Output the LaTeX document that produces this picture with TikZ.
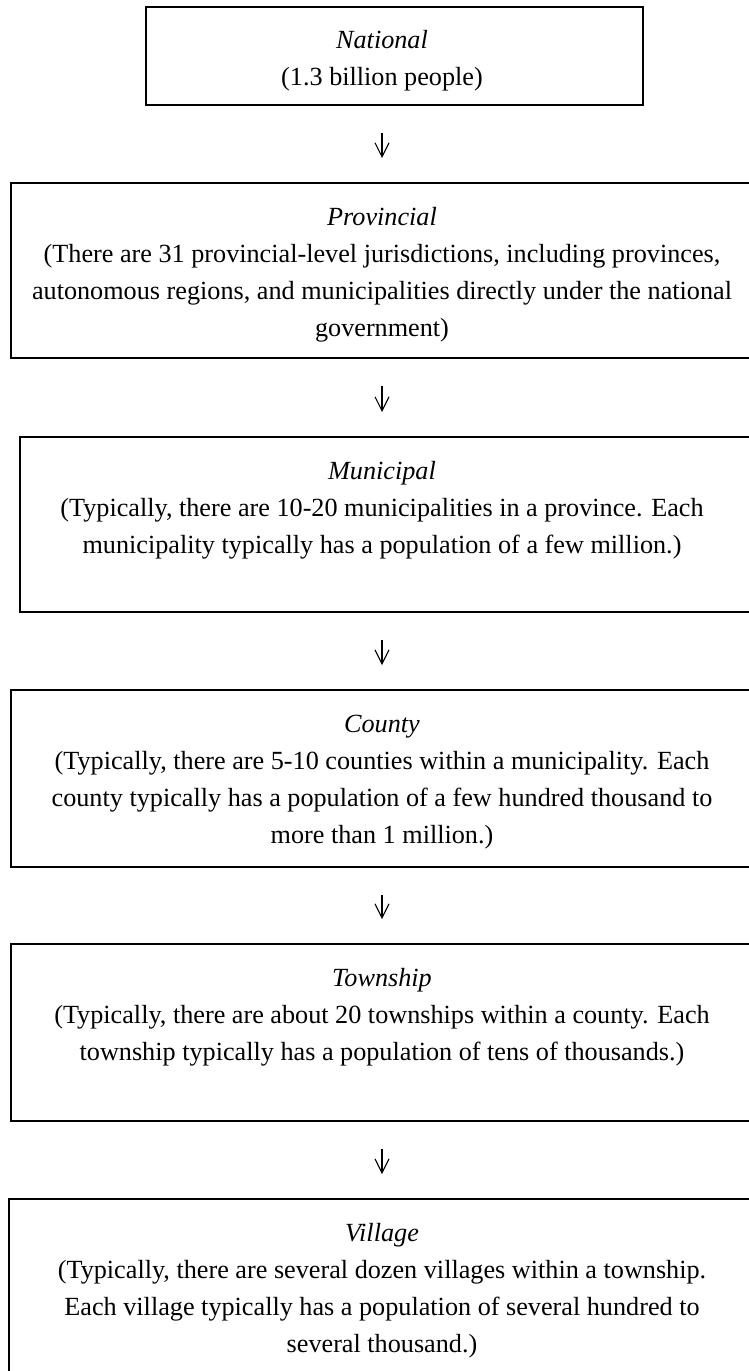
\documentclass[tikz,border=0pt]{standalone}
\usepackage{fontspec}
\setmainfont{Liberation Serif}
\usetikzlibrary{arrows.meta}

\tikzset{
  levelbox/.style={draw, line width=0.8pt, anchor=north west, inner sep=0pt},
  leveltext/.style={align=center, anchor=base, inner sep=0pt,
    font=\fontsize{13.1pt}{18.5pt}\selectfont},
  downarrow/.style={-{Straight Barb[length=7pt,width=7pt]}, line width=0.55pt,
    shorten <=13.5pt, shorten >=12pt},
}

\begin{document}
\begin{tikzpicture}[x=0.5pt, y=-0.5pt]
  \useasboundingbox (0,0) rectangle (749,1371);

  % one box per level of government
  \node[levelbox, minimum width=248.5pt, minimum height=49pt] (national) at (145,6) {};
  \node[levelbox, minimum width=375pt, minimum height=87.5pt] (provincial) at (10,182) {};
  \node[levelbox, minimum width=370.5pt, minimum height=87.5pt] (municipal) at (19,436) {};
  \node[levelbox, minimum width=375pt, minimum height=88.5pt] (county) at (10,689) {};
  \node[levelbox, minimum width=375pt, minimum height=88.5pt] (township) at (10,943) {};
  \node[levelbox, minimum width=376pt, minimum height=91pt] (village) at (8,1198) {};

  % texts (placed by the baseline of their last line)
  \node[leveltext] (nattext) at (382,85) {\textit{National}\\(1.3 billion people)};
  \node[leveltext] (provtext) at (382,336) {\textit{Provincial}\\
    (There are 31 provincial-level jurisdictions, including provinces,\\
    autonomous regions, and municipalities directly under the national\\
    government)};
  \node[leveltext] (munitext) at (382,553) {\textit{Municipal}\\
    (Typically, there are 10-20 municipalities in a province. Each\\
    municipality typically has a population of a few million.)};
  \node[leveltext] (countext) at (382,843) {\textit{County}\\
    (Typically, there are 5-10 counties within a municipality. Each\\
    county typically has a population of a few hundred thousand to\\
    more than 1 million.)};
  \node[leveltext] (towntext) at (382,1060) {\textit{Township}\\
    (Typically, there are about 20 townships within a county. Each\\
    township typically has a population of tens of thousands.)};
  \node[leveltext] (villtext) at (382,1352) {\textit{Village}\\
    (Typically, there are several dozen villages within a township.\\
    Each village typically has a population of several hundred to\\
    several thousand.)};

  % arrows between levels
  \draw[downarrow] (national.south -| nattext) -- (provincial.north -| nattext);
  \draw[downarrow] (provincial.south -| nattext) -- (municipal.north -| nattext);
  \draw[downarrow] (municipal.south -| nattext) -- (county.north -| nattext);
  \draw[downarrow] (county.south -| nattext) -- (township.north -| nattext);
  \draw[downarrow] (township.south -| nattext) -- (village.north -| nattext);
\end{tikzpicture}
\end{document}
